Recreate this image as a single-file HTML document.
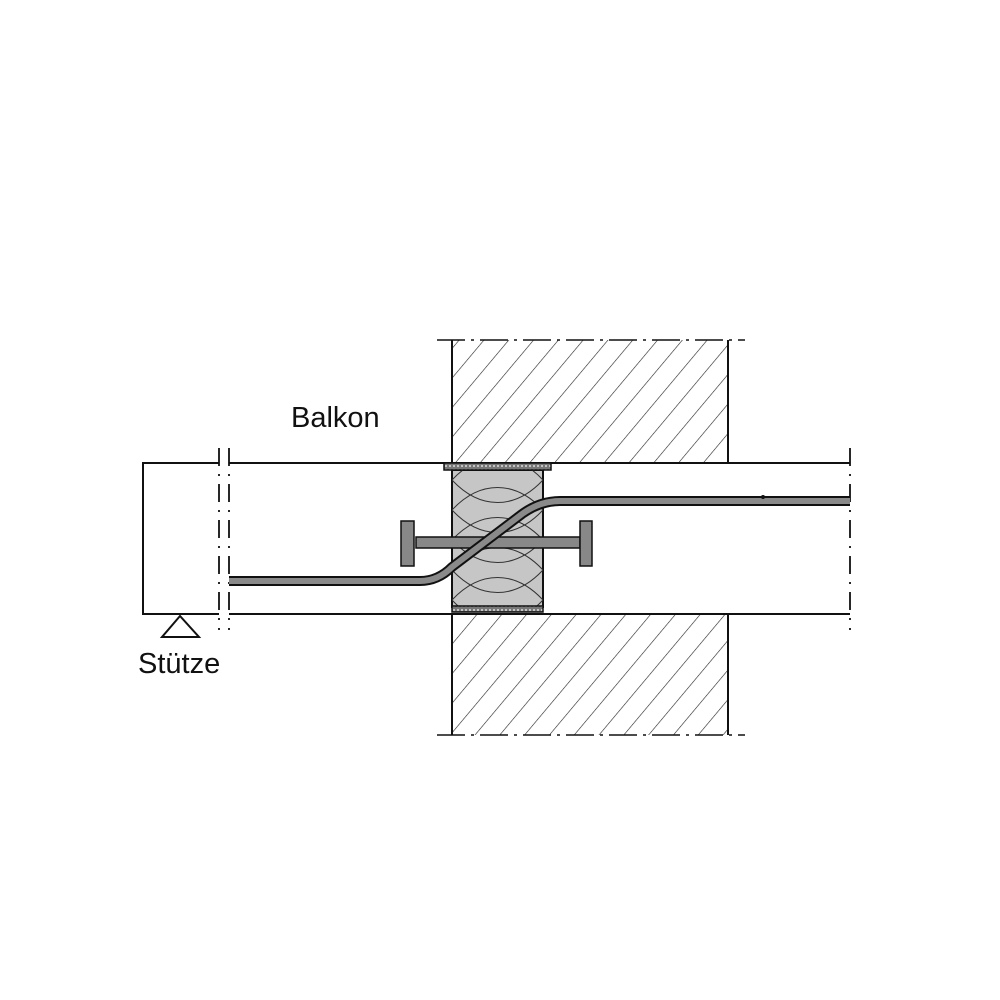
<!DOCTYPE html>
<html><head><style>body{margin:0;background:#fff}svg{display:block}</style></head><body>
<svg width="1000" height="1000" viewBox="0 0 1000 1000" xmlns="http://www.w3.org/2000/svg">
<defs>
<pattern id="h" patternUnits="userSpaceOnUse" width="19" height="19" patternTransform="rotate(40)">
<line x1="0" y1="0" x2="0" y2="19" stroke="#222" stroke-width="1.2"/>
</pattern>
<pattern id="r" patternUnits="userSpaceOnUse" width="4" height="4">
<rect width="4" height="4" fill="#777"/><circle cx="2" cy="2" r="1" fill="#ddd"/>
</pattern>
<clipPath id="ins"><rect x="452" y="470" width="91" height="137"/></clipPath>
</defs>
<rect x="452" y="340" width="276" height="123" fill="url(#h)"/>
<rect x="452" y="614" width="276" height="121" fill="url(#h)"/>
<g stroke="#111" stroke-width="2" fill="none">
<line x1="452" y1="340" x2="452" y2="463"/><line x1="728" y1="340" x2="728" y2="463"/>
<line x1="452" y1="614" x2="452" y2="735"/><line x1="728" y1="614" x2="728" y2="735"/>
</g>
<g stroke="#111" stroke-width="1.5" stroke-dasharray="28,6,3,6">
<line x1="437" y1="340" x2="745" y2="340"/><line x1="437" y1="735" x2="745" y2="735"/>
</g>
<g stroke="#111" stroke-width="2" fill="none">
<polyline points="219,463 143,463 143,614 219,614"/>
<line x1="229" y1="463" x2="850" y2="463"/>
<line x1="229" y1="614" x2="850" y2="614"/>
</g>
<g stroke="#111" stroke-width="1.8" stroke-dasharray="18,8,2,8">
<line x1="219" y1="448" x2="219" y2="630"/><line x1="229" y1="448" x2="229" y2="630"/>
<line x1="850" y1="448" x2="850" y2="630"/>
</g>
<rect x="452" y="470" width="91" height="137" fill="#c6c6c6" stroke="#111" stroke-width="2"/>
<g clip-path="url(#ins)" stroke="#333" stroke-width="1" fill="none">
<path d="M452,480 C480,510 515,510 543,480"/><path d="M452,480 C480,450 515,450 543,480"/>
<path d="M452,510 C480,540 515,540 543,510"/><path d="M452,510 C480,480 515,480 543,510"/>
<path d="M452,540 C480,570 515,570 543,540"/><path d="M452,540 C480,510 515,510 543,540"/>
<path d="M452,570 C480,600 515,600 543,570"/><path d="M452,570 C480,540 515,540 543,570"/>
<path d="M452,600 C480,630 515,630 543,600"/><path d="M452,600 C480,570 515,570 543,600"/>
</g>
<rect x="444" y="463" width="107" height="7" fill="url(#r)" stroke="#111" stroke-width="1.5"/>
<rect x="452" y="606" width="91" height="6" fill="url(#r)" stroke="#111" stroke-width="1.5"/>
<rect x="416" y="537" width="164" height="11" fill="#888" stroke="#111" stroke-width="1.5"/>
<rect x="401" y="521" width="13" height="45" fill="#888" stroke="#111" stroke-width="1.5"/>
<rect x="580" y="521" width="12" height="45" fill="#888" stroke="#111" stroke-width="1.5"/>
<path d="M229,581 L420,581 Q438,581 452,567 L522,514 Q540,501 560,501 L850,501" fill="none" stroke="#111" stroke-width="10"/>
<path d="M229,581 L420,581 Q438,581 452,567 L522,514 Q540,501 560,501 L850,501" fill="none" stroke="#8a8a8a" stroke-width="6"/>
<circle cx="763" cy="497" r="2" fill="#111"/>
<polygon points="180,616 162,637 199,637" fill="#fff" stroke="#111" stroke-width="2"/>
<text x="291" y="427" font-family="Liberation Sans, sans-serif" font-size="29" fill="#111">Balkon</text>
<text x="138" y="673" font-family="Liberation Sans, sans-serif" font-size="29" fill="#111">Stütze</text>
</svg>
</body></html>
